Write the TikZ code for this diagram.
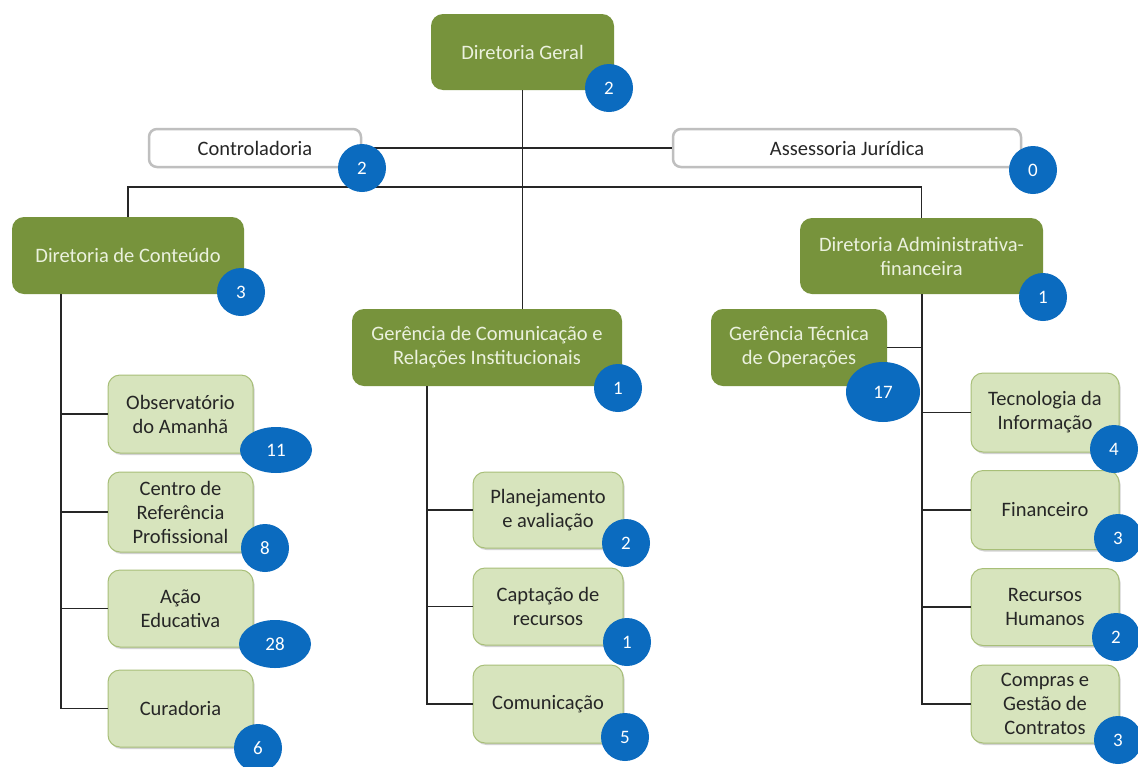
\documentclass[tikz,border=0pt]{standalone}
\usepackage{fontspec}
\setmainfont{Carlito}
\usetikzlibrary{shapes.geometric,shadows}
\definecolor{dkgreen}{HTML}{77933C}
\definecolor{cream}{HTML}{EBF1DE}
\definecolor{ltgreen}{HTML}{D7E4BD}
\definecolor{ltborder}{HTML}{A8BF78}
\definecolor{badgeblue}{HTML}{0B6BBF}
\definecolor{txt}{HTML}{262626}
\definecolor{graybd}{HTML}{BFBFBF}
\tikzset{
  dkbox/.style={rectangle, rounded corners=12pt, fill=dkgreen, text=cream, align=center,
    font=\fontsize{20.5}{24}\selectfont, inner sep=2pt},
  ltbox/.style={rectangle, rounded corners=12pt, fill=ltgreen, draw=ltborder, line width=1pt,
    text=txt, align=center, font=\fontsize{20.5}{24}\selectfont, inner sep=2pt,
    drop shadow={shadow xshift=1.5pt, shadow yshift=-2pt, fill=black!35, opacity=0.5}},
  whbox/.style={rectangle, rounded corners=8pt, fill=white, draw=graybd, line width=2.5pt,
    text=txt, align=center, font=\fontsize{20.5}{24}\selectfont, inner sep=2pt},
  badge/.style={circle, fill=badgeblue, text=white, minimum size=48pt, inner sep=0pt,
    font=\fontsize{19}{22}\selectfont},
  ebadge/.style={ellipse, fill=badgeblue, text=white, inner sep=0pt,
    font=\fontsize{19}{22}\selectfont},
  conn/.style={draw=black!85, line width=1.4pt}
}
\begin{document}
\begin{tikzpicture}[x=1pt,y=-1pt]
\clip (0,0) rectangle (1138,766);
\fill[white] (0,0) rectangle (1138,766);
% boxes
\node[dkbox, minimum width=183pt, minimum height=76pt] (dg) at (522.5,52) {Diretoria Geral};
\node[whbox, minimum width=212pt, minimum height=38pt] (ctl) at (255,148) {Controladoria};
\node[whbox, minimum width=348pt, minimum height=38pt] (ass) at (847,148) {Assessoria Jurídica};
\node[dkbox, minimum width=232pt, minimum height=77pt] (dc) at (128,255.5) {Diretoria de Conteúdo};
\node[dkbox, minimum width=243pt, minimum height=76pt] (daf) at (921.5,256) {Diretoria Administrativa-\\financeira};
\node[dkbox, minimum width=270pt, minimum height=77pt] (gc) at (487,347.5) {Gerência de Comunicação e\\Relações Institucionais};
\node[dkbox, minimum width=176pt, minimum height=77pt] (gto) at (799,347.5) {Gerência Técnica\\de Operações};
\node[ltbox, minimum width=145pt, minimum height=78pt] (obs) at (180.5,414) {Observatório\\do Amanhã};
\node[ltbox, minimum width=145pt, minimum height=80pt] (crp) at (180.5,512) {Centro de\\Referência\\Profissional};
\node[ltbox, minimum width=145pt, minimum height=77pt] (ae) at (180.5,608.5) {Ação\\Educativa};
\node[ltbox, minimum width=145pt, minimum height=77pt] (cur) at (180.5,708.5) {Curadoria};
\node[ltbox, minimum width=150pt, minimum height=76pt] (pa) at (548,510) {Planejamento\\e avaliação};
\node[ltbox, minimum width=150pt, minimum height=77pt] (cr) at (548,606.5) {Captação de\\recursos};
\node[ltbox, minimum width=150pt, minimum height=78pt] (com) at (548,704) {Comunicação};
\node[ltbox, minimum width=148pt, minimum height=79pt] (ti) at (1045,412.5) {Tecnologia da\\Informação};
\node[ltbox, minimum width=148pt, minimum height=79pt] (fin) at (1045,510) {Financeiro};
\node[ltbox, minimum width=148pt, minimum height=77pt] (rh) at (1045,607) {Recursos\\Humanos};
\node[ltbox, minimum width=148pt, minimum height=78pt] (cgc) at (1045,704) {Compras e\\Gestão de\\Contratos};
% connectors
\coordinate (lv) at (61,294);
\coordinate (mv) at (427,386);
\coordinate (rv) at (922,294);
\draw[conn] (dg.south) -- (dg.south |- gc.north);
\draw[conn] (ctl.east) -- (ass.west);
\draw[conn] (dc.north) -- ++(0,-30) -| (daf.north);
\draw[conn] (lv) |- (cur.west);
\draw[conn] (lv |- obs.west) -- (obs.west);
\draw[conn] (lv |- crp.west) -- (crp.west);
\draw[conn] (lv |- ae.west) -- (ae.west);
\draw[conn] (mv) |- (com.west);
\draw[conn] (mv |- pa.west) -- (pa.west);
\draw[conn] (mv |- cr.west) -- (cr.west);
\draw[conn] (rv) |- (cgc.west);
\draw[conn] (rv |- ti.west) -- (ti.west);
\draw[conn] (rv |- fin.west) -- (fin.west);
\draw[conn] (rv |- rh.west) -- (rh.west);
\draw[conn] (gto.east) -- (rv |- gto.east);
% badges
\node[badge] (bdg) at (609,88) {2};
\node[badge] (bctl) at (362,168) {2};
\node[badge] (bass) at (1033,170) {0};
\node[badge] (bdc) at (241,292) {3};
\node[badge] (bdaf) at (1043,297) {1};
\node[badge] (bgc) at (618,388) {1};
\node[ebadge, minimum width=74pt, minimum height=60pt] (bgto) at (883,392) {17};
\node[ebadge, minimum width=72pt, minimum height=46pt] (bobs) at (276,450) {11};
\node[badge] (bcrp) at (265,548) {8};
\node[ebadge, minimum width=72pt, minimum height=48pt] (bae) at (275,644) {28};
\node[badge] (bcur) at (258,748) {6};
\node[badge] (bpa) at (626,543) {2};
\node[badge] (bcr) at (627,642) {1};
\node[badge] (bcom) at (625,737) {5};
\node[badge] (bti) at (1114,449) {4};
\node[badge] (bfin) at (1118,538) {3};
\node[badge] (brh) at (1116,637) {2};
\node[badge] (bcgc) at (1118,740) {3};
\end{tikzpicture}
\end{document}
